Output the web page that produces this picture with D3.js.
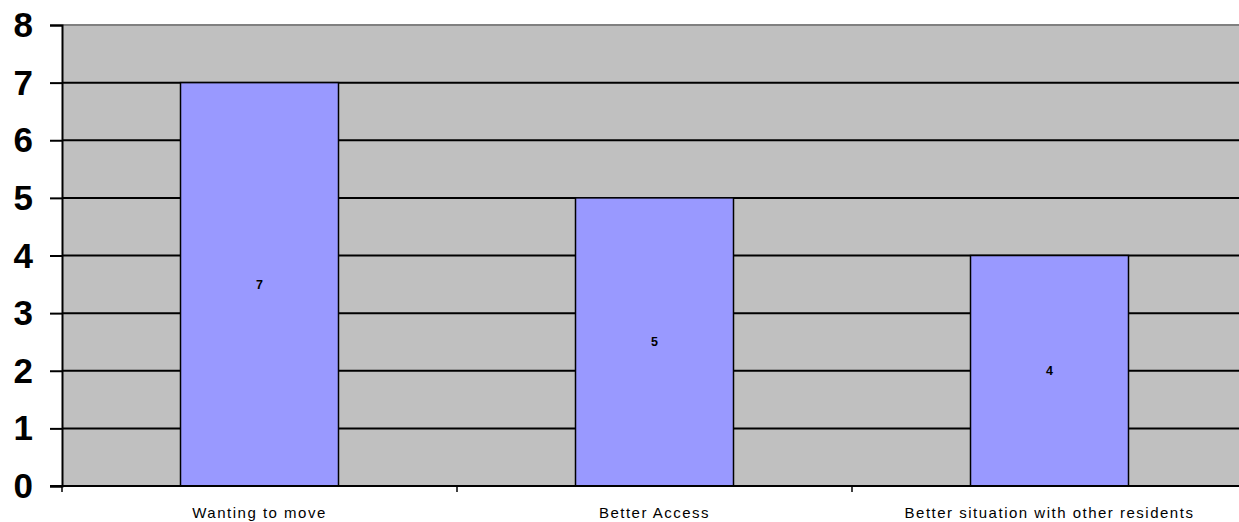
<!DOCTYPE html>
<html>
<head>
<meta charset="utf-8">
<script src="https://cdn.jsdelivr.net/npm/d3@7"></script>
<style>
  html, body { margin: 0; padding: 0; background: #fff; }
  svg { display: block; font-family: "Liberation Sans", Arial, sans-serif; }
</style>
</head>
<body>
<svg id="chart" width="1239" height="522"></svg>
<script>
const categories = ["Wanting to move", "Better Access", "Better situation with other residents"];
const values = [7, 5, 4];
const yTicks = [0, 1, 2, 3, 4, 5, 6, 7, 8];

const svg = d3.select("#chart");
const plot = { left: 62, top: 25, right: 1247, bottom: 486 };

const x = d3.scaleBand()
  .domain(categories)
  .range([plot.left, plot.right])
  .paddingInner(0.6)
  .paddingOuter(0.3);

const y = d3.scaleLinear().domain([0, 8]).range([plot.bottom, plot.top]);

// plot background
svg.append("rect")
  .attr("x", plot.left).attr("y", plot.top)
  .attr("width", plot.right - plot.left).attr("height", plot.bottom - plot.top)
  .attr("fill", "#c0c0c0");

// top border
svg.append("line")
  .attr("x1", plot.left).attr("x2", plot.right)
  .attr("y1", plot.top).attr("y2", plot.top)
  .attr("stroke", "#808080").attr("stroke-width", 2);

// gridlines
svg.append("g")
  .selectAll("line")
  .data(yTicks.filter(d => d > 0 && d < 8))
  .join("line")
  .attr("x1", plot.left).attr("x2", plot.right)
  .attr("y1", d => y(d)).attr("y2", d => y(d))
  .attr("stroke", "#000").attr("stroke-width", 2);

// bars
svg.append("g")
  .selectAll("rect")
  .data(values)
  .join("rect")
  .attr("x", (d, i) => x(categories[i]))
  .attr("y", d => y(d))
  .attr("width", x.bandwidth())
  .attr("height", d => y(0) - y(d))
  .attr("fill", "#9999ff")
  .attr("stroke", "#000")
  .attr("stroke-width", 1.5);

// value labels
svg.append("g")
  .selectAll("text")
  .data(values)
  .join("text")
  .attr("x", (d, i) => x(categories[i]) + x.bandwidth() / 2)
  .attr("y", d => (y(d) + y(0)) / 2)
  .attr("dy", "0.35em")
  .attr("text-anchor", "middle")
  .attr("font-size", 12.5)
  .attr("font-weight", "bold")
  .text(d => d);

// y axis
const yAxis = d3.axisLeft(y).tickValues(yTicks).tickSize(12).tickPadding(17).tickFormat(d3.format("d"));
const gy = svg.append("g").attr("transform", `translate(${plot.left},0)`).call(yAxis);
gy.select(".domain").attr("stroke", "#000").attr("stroke-width", 2);
gy.selectAll(".tick line").attr("stroke", "#000").attr("stroke-width", 2);
gy.selectAll(".tick text")
  .attr("font-size", 35).attr("font-weight", "bold")
  .attr("font-family", "Liberation Sans, Arial, sans-serif")
  .attr("dy", "0.33em")
  .attr("fill", "#000");

// x axis with category boundary ticks
const xAxisG = svg.append("g").attr("transform", `translate(0,${plot.bottom})`);
xAxisG.append("line")
  .attr("x1", plot.left - 12).attr("x2", plot.right)
  .attr("stroke", "#000").attr("stroke-width", 2);
const boundaries = categories.map((c, i) => plot.left + i * (plot.right - plot.left) / categories.length);
xAxisG.selectAll("line.bt")
  .data(boundaries)
  .join("line")
  .attr("class", "bt")
  .attr("x1", d => d).attr("x2", d => d)
  .attr("y1", 0).attr("y2", 6)
  .attr("stroke", "#000").attr("stroke-width", 1.5);
xAxisG.selectAll("text")
  .data(categories)
  .join("text")
  .attr("x", d => x(d) + x.bandwidth() / 2)
  .attr("y", 32)
  .attr("text-anchor", "middle")
  .attr("font-size", 15)
  .attr("letter-spacing", 1.5)
  .attr("fill", "#000")
  .text(d => d);
</script>
</body>
</html>
